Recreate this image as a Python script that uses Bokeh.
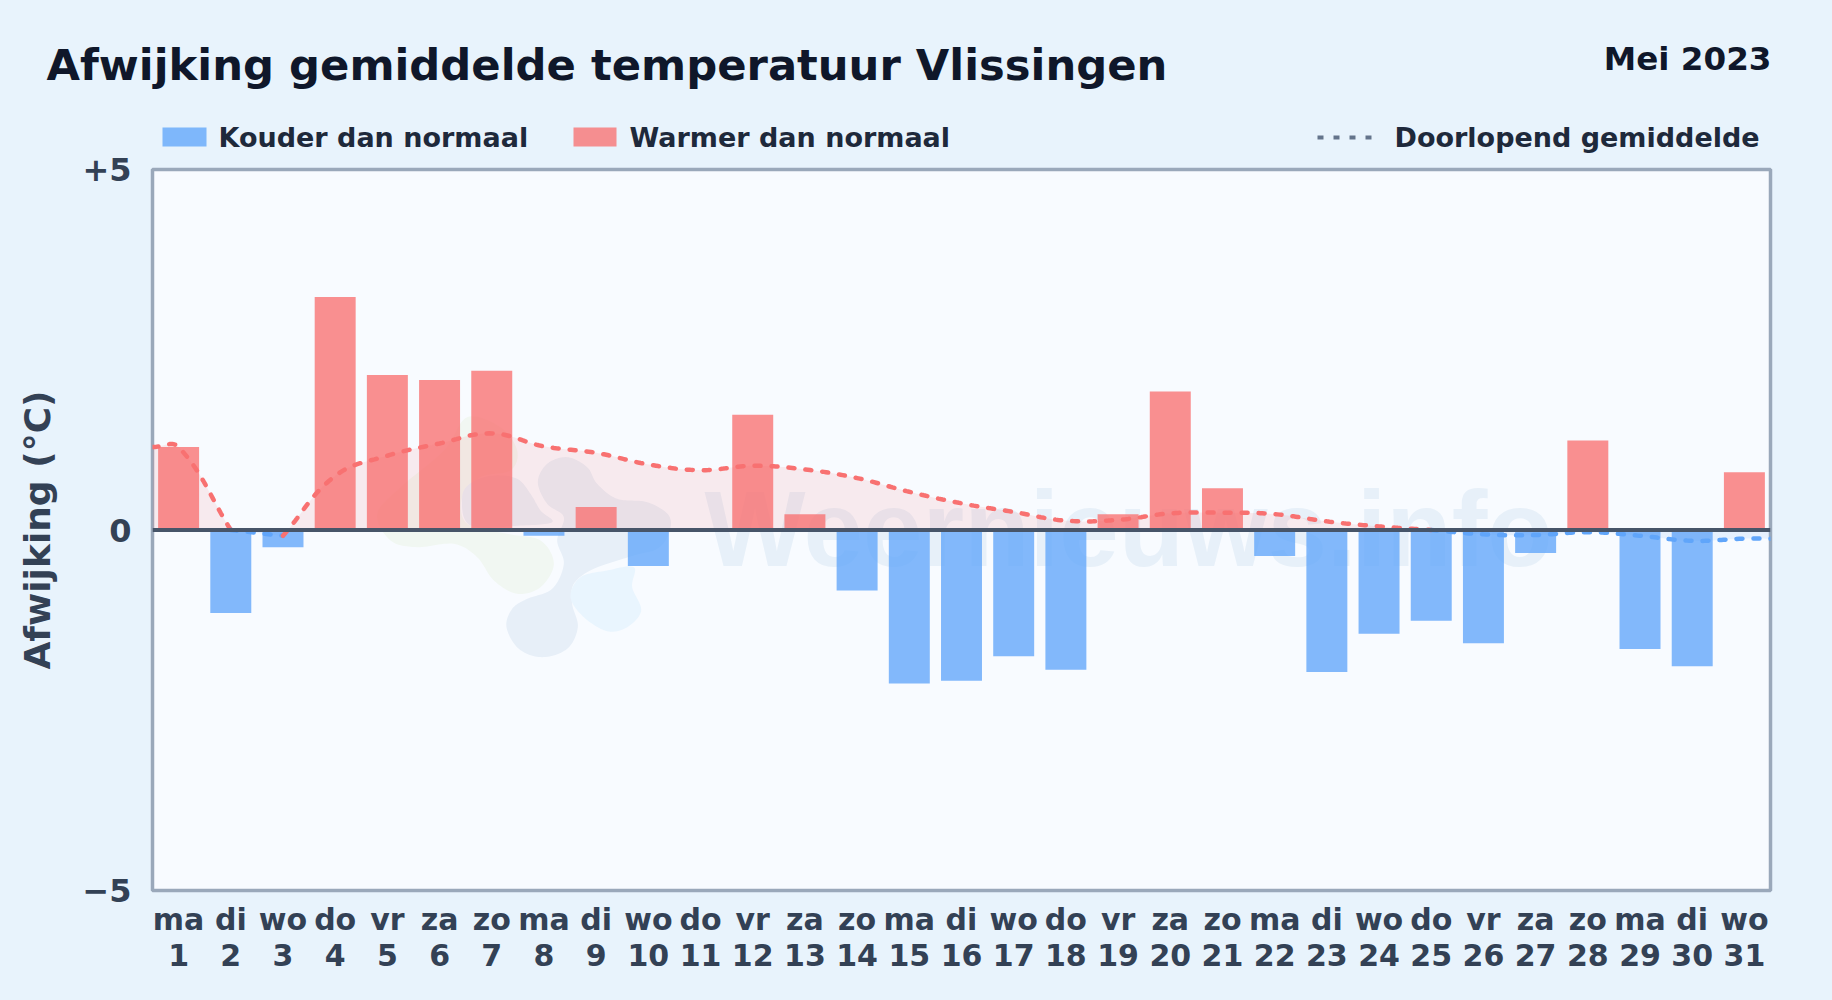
from bokeh.plotting import figure
from bokeh.layouts import column
from bokeh.embed import file_html
from bokeh.resources import INLINE
from bokeh.models import Range1d, FixedTicker, Span
from bokeh.core.properties import value
import numpy as np

days = list(range(1, 32))
weekdays = ["ma","di","wo","do","vr","za","zo","ma","di","wo","do","vr","za","zo","ma","di","wo","do","vr","za","zo","ma","di","wo","do","vr","za","zo","ma","di","wo"]
deviation = [1.15,-1.15,-0.24,3.23,2.15,2.08,2.21,-0.08,0.32,-0.50,0.0,1.60,0.22,-0.84,-2.13,-2.09,-1.75,-1.94,0.22,1.92,0.58,-0.36,-1.97,-1.44,-1.26,-1.57,-0.32,1.24,-1.65,-1.89,0.80]
running_mean = [1.15,0.0,-0.08,0.75,1.03,1.20,1.34,1.16,1.07,0.91,0.83,0.89,0.84,0.72,0.53,0.37,0.25,0.13,0.14,0.23,0.24,0.22,0.12,0.05,0.0,-0.06,-0.07,-0.03,-0.08,-0.15,-0.12]
legend_labels = ["Kouder dan normaal", "Warmer dan normaal", "Doorlopend gemiddelde"]

TITLE = "Afwijking gemiddelde temperatuur Vlissingen"
PERIOD = "Mei 2023"
FONT = "DejaVu Sans"
BG = "#e8f3fc"
PLOT_BG = "#f8fbff"
RED = "#f87171"
BLUE = "#60a5fa"

W, H = 1832, 1000
HEAD = 153
OVERLAP = 11                               # the chart's transparent top border overlaps the header strip
L, R, T, B = 152.0, 1770.0, 169.0, 890.0   # frame edges in page pixels

# header: a frameless strip whose data units are page pixels
head = figure(width=W, height=HEAD, output_backend="svg", toolbar_location=None,
              x_range=Range1d(0, W), y_range=Range1d(HEAD, 0), min_border=0, frame_align=False,
              background_fill_color=BG, border_fill_color=BG, outline_line_color=None)
head.axis.visible = False
head.grid.visible = False

def head_text(x, y, s, size, color, align="left", baseline="alphabetic"):
    head.text(x=[x], y=[y], text=[s], text_font=value(FONT), text_font_style="bold", text_font_size=size,
              text_color=color, text_align=align, text_baseline=baseline)

head_text(46, 64, TITLE, "43.3px", "#0f172a")
head_text(1771, 58, PERIOD, "32.6px", "#0f172a", align="right")
head.quad(left=[162], right=[206], top=[127], bottom=[146], fill_color=BLUE, fill_alpha=0.78, line_color=None)
head.quad(left=[573], right=[616], top=[127], bottom=[146], fill_color=RED, fill_alpha=0.78, line_color=None)
head.line([1317, 1372], [137, 137], line_color="#64748b", line_width=4, line_dash="6 10")
for x, s in zip([218, 629, 1394], legend_labels):
    head_text(x, 136.5, s, "27px", "#1e293b")

top_edge = HEAD - OVERLAP
p = figure(width=W, height=H-top_edge, output_backend="svg", toolbar_location=None,
           x_range=Range1d(0.5, 31.5), y_range=Range1d(-5, 5), frame_align=False,
           margin=(-OVERLAP, 0, 0, 0),
           min_border_left=int(L), min_border_right=int(W-R), min_border_top=int(T-top_edge), min_border_bottom=int(H-B),
           background_fill_color=PLOT_BG, border_fill_alpha=0,
           outline_line_color="#9aa8ba", outline_line_width=3.5)
p.grid.visible = False

# page px -> data helpers (for the decorative watermark only)
def px(v): return 0.5 + (np.asarray(v, float) - L) / (R - L) * 31
def py(v): return 5 - (np.asarray(v, float) - T) / (B - T) * 10

def blob(points, n=14):
    """closed smooth outline through zoom-space points"""
    P = np.array(points, float)
    out = []
    m = len(P)
    for i in range(m):
        p0, p1, p2, p3 = P[(i-1) % m], P[i], P[(i+1) % m], P[(i+2) % m]
        for t in np.linspace(0, 1, n, endpoint=False):
            out.append(0.5*((2*p1) + (p2-p0)*t + (2*p0-5*p1+4*p2-p3)*t*t + (3*p1-p0-3*p2+p3)*t**3))
    out = np.array(out)
    return px(360 + out[:, 0]/3), py(400 + out[:, 1]/3)

logo = [
    ("#f1f7f2", [(320,50),(420,80),(470,150),(450,210),(360,230),(305,290),(320,370),(440,400),(540,420),(580,490),(540,560),(470,580),(400,540),(350,470),(280,430),(170,440),(90,420),(50,340),(120,260),(250,150)]),
    ("#e7eff8", [(620,170),(680,200),(710,250),(770,295),(860,305),(925,345),(925,400),(890,445),(820,465),(700,505),(640,550),(635,610),(652,680),(620,745),(545,770),(475,745),(438,680),(455,625),(500,595),(575,565),(610,490),(590,420),(610,350),(560,310),(532,245),(560,190)]),
    ("#e7eff8", [(305,290),(335,245),(400,225),(470,235),(510,280),(540,330),(575,365),(480,375),(330,375)]),
    ("#e9f5fe", [(820,500),(815,560),(842,630),(800,680),(740,692),(670,650),(630,590),(660,530),(740,510)]),
]
for col, pts in logo:
    xs, ys = blob(pts)
    p.patch(xs, ys, fill_color=col, line_color=None)

p.text(x=[float(px(704))], y=[float(py(528))], text=["Weernieuws.info"], text_font=value("Liberation Sans"), text_font_style="bold",
       text_font_size="107px", text_color="#e7f0f9", text_align="left", text_baseline="alphabetic")

# bars
pos_d = [d for d, v in zip(days, deviation) if v >= 0]
pos_v = [v for v in deviation if v >= 0]
neg_d = [d for d, v in zip(days, deviation) if v < 0]
neg_v = [v for v in deviation if v < 0]
bar_w = 0.785
p.vbar(x=pos_d, top=pos_v, bottom=0, width=bar_w, fill_color=RED, fill_alpha=0.78, line_color=None)
p.vbar(x=neg_d, top=neg_v, bottom=0, width=bar_w, fill_color=BLUE, fill_alpha=0.78, line_color=None)

# smooth curve through the running mean, one run per colour (a segment takes the sign of its end value)
xa = np.array([0.5] + days + [31.5], float)
ya = np.array([running_mean[0]] + running_mean + [running_mean[-1]], float)

def smooth(x, y):
    sx = (x - 0.5) / 31 * (R - L)
    sy = -y * (B - T) / 10
    pts = np.column_stack([sx, sy])
    n = len(pts)
    c_in, c_out = pts.copy(), pts.copy()
    for i in range(n):
        a = pts[max(i-1, 0)]; b = pts[i]; c = pts[min(i+1, n-1)]
        d01 = np.hypot(*(b-a)); d12 = np.hypot(*(c-b))
        tot = d01 + d12
        s = d01/tot if tot else 0
        c_in[i] = b - 0.4*s*(c-a)
        c_out[i] = b + 0.4*(1-s)*(c-a)
    out = []
    for i in range(n-1):
        t = np.linspace(0, 1, 24)[:, None]
        out.append((1-t)**3*pts[i] + 3*(1-t)**2*t*c_out[i] + 3*(1-t)*t**2*c_in[i+1] + t**3*pts[i+1])
    o = np.vstack(out)
    return o[:, 0]/(R-L)*31 + 0.5, -o[:, 1]*10/(B-T)

runs = []
start = 0
for i in range(1, len(xa)):
    col = RED if ya[i] >= 0 else BLUE
    nxt = (RED if ya[i+1] >= 0 else BLUE) if i+1 < len(xa) else None
    if nxt != col:
        runs.append((col, start, i))
        start = i

curve = []
for col, a, b in runs:
    curve.append((col,) + smooth(xa[a:b+1], ya[a:b+1]))
cx = np.concatenate([c[1] for c in curve]); cy = np.concatenate([c[2] for c in curve])
p.varea(x=cx, y1=np.maximum(cy, 0), y2=0, fill_color=RED, fill_alpha=0.12)
p.varea(x=cx, y1=np.minimum(cy, 0), y2=0, fill_color=BLUE, fill_alpha=0.12)
for col, xs, ys in curve:
    p.line(xs, ys, line_color=col, line_width=4.5, line_dash="6 11", line_cap="round")

p.add_layout(Span(location=0, dimension="width", line_color="#475569", line_width=4))

# axes
p.xaxis.ticker = FixedTicker(ticks=days)
p.xaxis.major_label_overrides = {d: f"{w}\n{d}" for d, w in zip(days, weekdays)}
p.xaxis.major_label_text_font = FONT
p.xaxis.major_label_text_font_style = "bold"
p.xaxis.major_label_text_font_size = "30px"
p.xaxis.major_label_text_color = "#334155"
p.xaxis.major_label_text_line_height = 1.05
p.xaxis.major_label_standoff = 5
p.yaxis.ticker = FixedTicker(ticks=[-5, 0, 5])
p.yaxis.major_label_overrides = {-5: "\u22125", 0: "0", 5: "+5"}
p.yaxis.major_label_text_font = FONT
p.yaxis.major_label_text_font_style = "bold"
p.yaxis.major_label_text_font_size = "32px"
p.yaxis.major_label_text_color = "#334155"
p.yaxis.major_label_standoff = 15
p.yaxis.axis_label = "Afwijking (\u00b0C)"
p.yaxis.axis_label_text_font = FONT
p.yaxis.axis_label_text_font_style = "bold"
p.yaxis.axis_label_text_font_size = "36px"
p.yaxis.axis_label_text_color = "#334155"
p.yaxis.axis_label_standoff = 21
for ax in (p.xaxis, p.yaxis):
    ax.axis_line_color = None
    ax.major_tick_line_color = None
    ax.minor_tick_line_color = None

page = column(head, p, spacing=0)
html = file_html(page, INLINE)
html = html.replace("<head>", f"<head><style>html,body{{background:{BG};}}</style>", 1)
open("out.html", "w").write(html)
